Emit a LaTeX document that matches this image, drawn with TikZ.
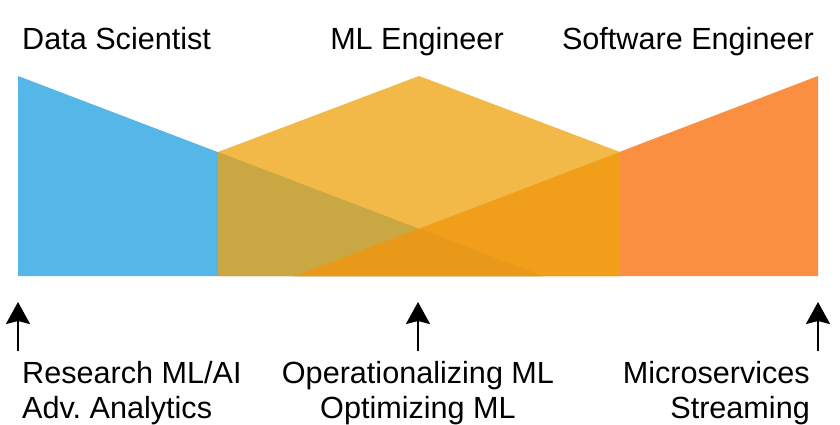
\documentclass[tikz,border=0pt]{standalone}
\usepackage{fontspec}
\setmainfont{Liberation Sans}
\frenchspacing
\usetikzlibrary{arrows.meta}
\definecolor{dsblue}{HTML}{55B7E7}
\definecolor{mlyellow}{HTML}{F3B948}
\definecolor{seorange}{HTML}{FA8F42}
\definecolor{olive}{HTML}{C9A843}
\definecolor{ovlorange}{HTML}{F19F1A}
\definecolor{triple}{HTML}{E8991A}
\begin{document}
\begin{tikzpicture}[x=1pt,y=-1pt,
  lbl/.style={font=\fontsize{30.6}{35}\selectfont, inner sep=0pt},
  up/.style={line width=2pt, -{Stealth[length=22pt,width=24pt,inset=3pt]}}]
\useasboundingbox (0,0) rectangle (840,425);
% base shapes
\fill[dsblue] (18,76) -- (543,276) -- (18,276) -- cycle;
\fill[seorange] (818,76) -- (818,276) -- (295,276) -- cycle;
\fill[mlyellow] (218,152) -- (419,76) -- (620,152) -- (620,276) -- (218,276) -- cycle;
% overlaps
\fill[olive] (218,152) -- (543,276) -- (218,276) -- cycle;
\fill[ovlorange] (620,152) -- (620,276) -- (295,276) -- cycle;
\fill[triple] (295,276) -- (419,228.5) -- (543,276) -- cycle;
% top labels
\node[lbl, anchor=base west] (ds) at (22,50) {Data Scientist};
\node[lbl, anchor=base] (ml) at (417,50) {ML Engineer};
\node[lbl, anchor=base east] (se) at (814,50) {Software Engineer};
% bottom labels
\node[lbl, anchor=base west] (l1a) at (22,383) {Research ML/AI};
\node[lbl, anchor=base west] (l1b) at (22,418) {Adv. Analytics};
\node[lbl, anchor=base] (l2a) at (418,383) {Operationalizing ML};
\node[lbl, anchor=base] (l2b) at (418,418) {Optimizing ML};
\node[lbl, anchor=base east] (l3a) at (810,383) {Microservices};
\node[lbl, anchor=base east] (l3b) at (810,418) {Streaming};
% arrows
\coordinate (b1) at (18,351); \coordinate (t1) at (18,302);
\coordinate (b2) at (418,351); \coordinate (t2) at (418,302);
\coordinate (b3) at (818,351); \coordinate (t3) at (818,302);
\draw[up] (b1) -- (t1);
\draw[up] (b2) -- (t2);
\draw[up] (b3) -- (t3);
\end{tikzpicture}
\end{document}
